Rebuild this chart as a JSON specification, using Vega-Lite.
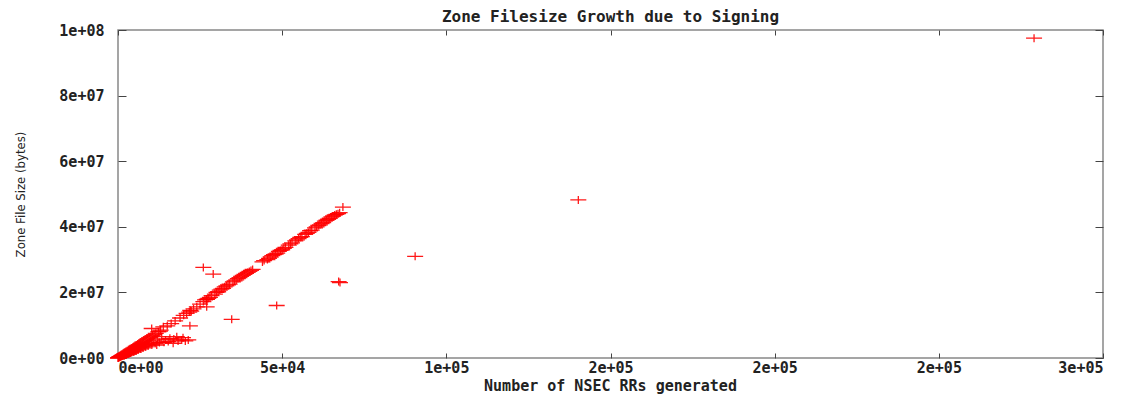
{
  "$schema": "https://vega.github.io/schema/vega-lite/v6.json",
  "width": 985,
  "height": 328,
  "autosize": "none",
  "padding": {"left": 118, "top": 30, "right": 33, "bottom": 36},
  "background": "white",
  "title": {"text": "Zone Filesize Growth due to Signing", "font": "DejaVu Sans Mono", "fontSize": 16, "fontWeight": "bold", "color": "#222222", "offset": -2, "anchor": "middle"},
  "config": {
    "view": {"stroke": "#888888", "strokeWidth": 1.5},
    "axis": {"grid": false, "domain": false, "tickColor": "#444444", "labelFont": "DejaVu Sans Mono", "labelFontWeight": "bold", "labelFontSize": 15, "labelColor": "#222222", "titleColor": "#222222"}
  },
  "data": {"values": [
    {"x":0,"y":0},{"x":100,"y":80000},{"x":200,"y":120000},{"x":300,"y":200000},{"x":400,"y":250000},{"x":500,"y":300000},{"x":600,"y":420000},{"x":700,"y":380000},{"x":800,"y":520000},{"x":900,"y":450000},
    {"x":1000,"y":650000},{"x":1100,"y":500000},{"x":1200,"y":780000},{"x":1300,"y":600000},{"x":1400,"y":900000},{"x":1500,"y":700000},{"x":1600,"y":1000000},{"x":1700,"y":800000},{"x":1800,"y":1150000},{"x":1900,"y":650000},
    {"x":2000,"y":1300000},{"x":2100,"y":900000},{"x":2200,"y":1400000},{"x":2400,"y":1100000},{"x":2500,"y":1600000},{"x":2600,"y":1000000},{"x":2800,"y":1800000},{"x":3000,"y":1300000},{"x":3100,"y":2000000},{"x":3300,"y":1200000},
    {"x":3400,"y":2200000},{"x":3500,"y":1600000},{"x":3700,"y":2400000},{"x":3800,"y":1500000},{"x":4000,"y":2600000},{"x":4100,"y":1900000},{"x":4300,"y":2800000},{"x":4500,"y":2100000},{"x":4600,"y":3000000},{"x":4800,"y":1800000},
    {"x":5000,"y":3200000},{"x":5200,"y":2500000},{"x":5400,"y":3500000},{"x":5500,"y":2200000},{"x":5700,"y":3700000},{"x":5900,"y":2800000},{"x":6000,"y":3900000},{"x":6200,"y":2500000},{"x":6400,"y":4100000},{"x":6500,"y":3200000},
    {"x":6700,"y":4300000},{"x":6900,"y":2800000},{"x":7000,"y":4500000},{"x":7200,"y":3500000},{"x":7400,"y":4800000},{"x":7600,"y":3100000},{"x":7800,"y":5000000},{"x":8000,"y":3900000},{"x":8200,"y":5300000},{"x":8400,"y":3400000},
    {"x":8600,"y":5600000},{"x":8800,"y":4200000},{"x":9000,"y":5900000},{"x":9200,"y":3700000},{"x":9500,"y":6200000},{"x":9700,"y":4600000},{"x":10000,"y":6500000},{"x":10300,"y":4000000},{"x":10500,"y":6800000},{"x":10800,"y":5200000},
    {"x":11000,"y":7100000},{"x":11300,"y":4400000},{"x":11500,"y":7500000},{"x":11800,"y":3960000},{"x":12000,"y":5800000},{"x":12300,"y":8000000},{"x":12600,"y":4700000},{"x":13000,"y":8500000},{"x":13300,"y":6500000},{"x":13800,"y":9500000},
    {"x":14000,"y":4800000},{"x":14500,"y":5500000},{"x":15000,"y":9800000},{"x":15300,"y":5000000},{"x":15800,"y":6000000},{"x":16200,"y":10500000},{"x":16800,"y":4500000},{"x":17000,"y":5800000},{"x":17400,"y":11300000},{"x":17900,"y":6500000},
    {"x":18300,"y":5200000},{"x":18900,"y":12200000},{"x":19400,"y":5500000},{"x":19800,"y":6200000},{"x":20000,"y":13000000},{"x":20500,"y":5200000},{"x":20900,"y":13600000},{"x":21400,"y":5500000},{"x":21700,"y":14000000},{"x":21900,"y":9800000},
    {"x":22300,"y":14300000},{"x":10260,"y":9000000},{"x":12800,"y":8200000},{"x":6000,"y":3600000},{"x":22000,"y":14500000},{"x":23000,"y":15000000},{"x":24000,"y":15600000},{"x":25000,"y":16400000},{"x":26000,"y":17200000},{"x":26500,"y":17700000},
    {"x":27000,"y":17900000},{"x":27500,"y":18200000},{"x":28000,"y":18500000},{"x":28500,"y":19000000},{"x":29500,"y":19500000},{"x":30000,"y":20000000},{"x":30500,"y":20200000},{"x":31000,"y":20700000},{"x":31500,"y":21000000},{"x":32000,"y":21200000},
    {"x":32500,"y":21700000},{"x":33000,"y":22000000},{"x":33500,"y":22300000},{"x":34000,"y":22500000},{"x":35000,"y":23200000},{"x":35500,"y":23500000},{"x":36000,"y":23800000},{"x":36500,"y":24200000},{"x":37000,"y":24500000},{"x":37500,"y":24900000},
    {"x":38000,"y":25200000},{"x":38500,"y":25500000},{"x":39000,"y":25800000},{"x":39500,"y":26100000},{"x":40000,"y":26400000},{"x":40500,"y":26700000},{"x":41000,"y":27000000},{"x":44000,"y":29300000},{"x":44500,"y":29700000},{"x":45500,"y":30000000},
    {"x":46000,"y":30400000},{"x":46500,"y":30800000},{"x":47000,"y":31200000},{"x":47500,"y":31500000},{"x":48000,"y":31700000},{"x":48500,"y":32000000},{"x":49000,"y":32500000},{"x":49500,"y":32800000},{"x":50000,"y":33000000},{"x":50500,"y":33400000},
    {"x":51000,"y":33700000},{"x":52000,"y":34400000},{"x":52500,"y":34800000},{"x":53000,"y":35100000},{"x":54000,"y":35700000},{"x":54500,"y":36000000},{"x":55000,"y":36400000},{"x":55500,"y":36800000},{"x":56000,"y":37000000},{"x":57000,"y":37700000},
    {"x":57500,"y":38000000},{"x":58000,"y":38300000},{"x":58500,"y":38800000},{"x":59000,"y":39000000},{"x":60000,"y":39700000},{"x":60500,"y":40000000},{"x":61000,"y":40400000},{"x":61500,"y":40600000},{"x":62000,"y":41000000},{"x":62500,"y":41300000},
    {"x":63000,"y":41700000},{"x":63500,"y":42000000},{"x":64000,"y":42300000},{"x":64500,"y":42600000},{"x":65000,"y":43000000},{"x":65500,"y":43300000},{"x":66000,"y":43600000},{"x":66500,"y":43800000},{"x":67000,"y":44000000},{"x":67500,"y":44300000},
    {"x":68500,"y":46000000},{"x":25990,"y":27600000},{"x":29000,"y":25600000},{"x":27010,"y":15600000},{"x":27100,"y":17900000},{"x":34630,"y":11800000},{"x":48330,"y":16000000},{"x":67610,"y":23000000},{"x":67200,"y":23300000},{"x":90500,"y":31000000},
    {"x":140200,"y":48200000},{"x":279000,"y":97500000}
  ]},
  "layer": [
    {
      "mark": {"type": "point", "shape": "M-1.6,0L1.6,0M0,-0.8L0,0.8", "filled": false, "stroke": "#ff0000", "strokeWidth": 1.3, "size": 100, "opacity": 0.9},
      "encoding": {
        "x": {"field": "x", "type": "quantitative", "scale": {"domain": [0, 300000], "nice": false, "zero": true},
              "axis": {"orient": "bottom", "values": [0, 50000, 100000, 150000, 200000, 250000, 300000], "tickSize": -5, "labelPadding": 7,
                       "labelExpr": "['0e+00','5e+04','1e+05','2e+05','2e+05','2e+05','3e+05'][round(datum.value/50000)]",
                       "title": "Number of NSEC RRs generated", "titleFont": "DejaVu Sans Mono", "titleFontWeight": "bold", "titleFontSize": 15, "titleX": 492, "titleY": 27, "titleBaseline": "middle", "titleAlign": "center"}},
        "y": {"field": "y", "type": "quantitative", "scale": {"domain": [0, 100000000], "nice": false, "zero": true},
              "axis": {"orient": "left", "values": [0, 20000000, 40000000, 60000000, 80000000, 100000000], "tickSize": -8, "labelPadding": 22,
                       "labelExpr": "['0e+00','2e+07','4e+07','6e+07','8e+07','1e+08'][round(datum.value/20000000)]",
                       "title": "Zone File Size (bytes)", "titleFont": "DejaVu Sans Condensed, Liberation Sans, Roboto, sans-serif", "titleFontWeight": "normal", "titleFontSize": 13, "titleX": -98, "titleY": 164, "titleAngle": -90, "titleBaseline": "middle", "titleAlign": "center"}}
      }
    },
    {
      "mark": {"type": "point", "opacity": 0},
      "encoding": {
        "x": {"field": "x", "type": "quantitative", "scale": {"domain": [0, 300000], "nice": false, "zero": true},
              "axis": {"orient": "top", "values": [0, 50000, 100000, 150000, 200000, 250000, 300000], "tickSize": -5, "labels": false, "title": null}},
        "y": {"field": "y", "type": "quantitative", "scale": {"domain": [0, 100000000], "nice": false, "zero": true},
              "axis": {"orient": "right", "values": [0, 20000000, 40000000, 60000000, 80000000, 100000000], "tickSize": -8, "labels": false, "title": null}}
      }
    }
  ],
  "resolve": {"scale": {"x": "independent", "y": "independent"}}
}
